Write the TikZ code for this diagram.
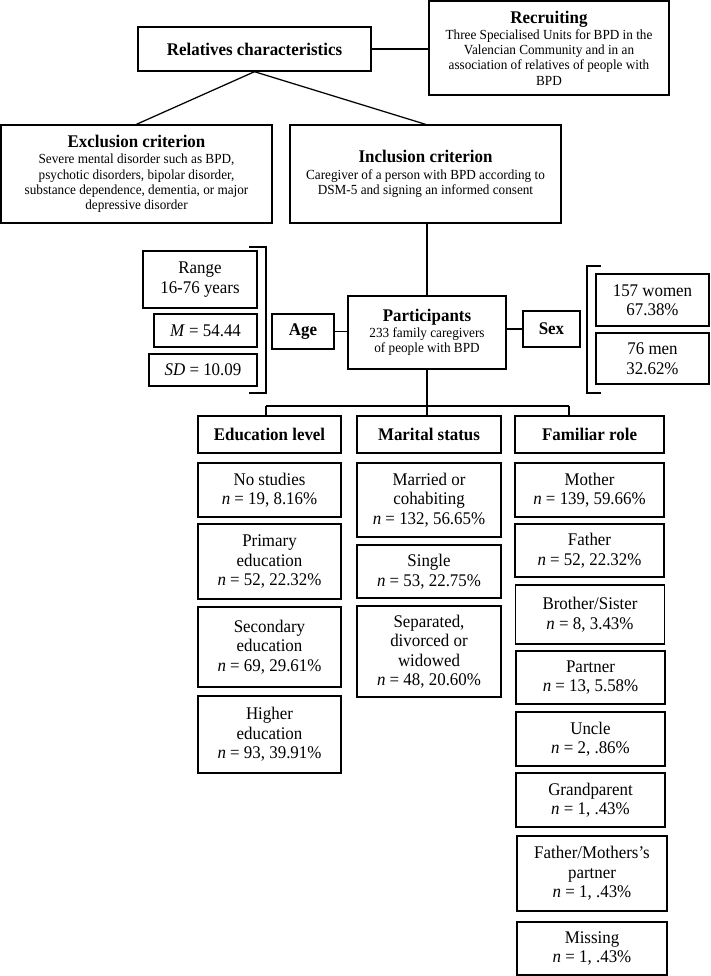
\documentclass[tikz,border=0pt]{standalone}
\usepackage{fontspec}
\setmainfont{Liberation Serif}[FakeStretch=0.95]
\newcommand\mainf{\fontsize{17.8}{19.5}\selectfont}
\newcommand\smallf{\fontsize{13.9}{15.2}\selectfont}
\begin{document}
\begin{tikzpicture}[x=1pt,y=-1pt,
  box/.style={draw=black, line width=1.4pt, align=center, inner sep=0pt, font=\mainf},
  sbox/.style={box, font=\smallf},
  conn/.style={draw=black, line width=1.25pt},
  ttl/.style={font=\mainf\bfseries}
]
\useasboundingbox (0,0) rectangle (710,976);
\fill[white] (0,0) rectangle (710,976);

% top part
\node[sbox, minimum width=240pt, minimum height=94pt] (rec) at (549,48)
  {{\mainf\bfseries Recruiting}\\[1pt]
   Three Specialised Units for BPD in the\\
   Valencian Community and in an\\
   association of relatives of people with\\
   BPD};
\node[box, minimum width=233pt, minimum height=44pt, font=\mainf\bfseries] (rel) at (254.5,49)
  {Relatives characteristics};
\node[sbox, minimum width=271pt, minimum height=98pt] (exc) at (136.5,174)
  {{\mainf\bfseries Exclusion criterion}\\[1pt]
   Severe mental disorder such as BPD,\\
   psychotic disorders, bipolar disorder,\\
   substance dependence, dementia, or major\\
   depressive disorder};
\node[sbox, minimum width=271pt, minimum height=98pt] (inc) at (425.5,174)
  {{\mainf\bfseries Inclusion criterion}\\[1pt]
   Caregiver of a person with BPD according to\\
   DSM-5 and signing an informed consent};

\draw[conn] (rel.east) -- (rel.east -| rec.west);
\draw[conn] (rel.south) -- (exc.north);
\draw[conn] (rel.south) -- (inc.north);

% participants
\node[sbox, minimum width=158pt, minimum height=73pt] (par) at (427,332.5)
  {{\mainf\bfseries Participants}\\[0pt]
   233 family caregivers\\
   of people with BPD};
\draw[conn] (par.north) -- (par.north |- inc.south);

\node[box, minimum width=62pt, minimum height=35pt, font=\mainf\bfseries] (age) at (303,331.5) {Age};
\node[box, minimum width=57pt, minimum height=36pt, font=\mainf\bfseries] (sex) at (551.5,329) {Sex};
\draw[conn] (age.east) -- (age.east -| par.west);
\draw[conn] (sex.west) -- (sex.west -| par.east);

\node[box, minimum width=114pt, minimum height=57pt] (range) at (200,279.5) {Range\\16-76 years};
\node[box, minimum width=103pt, minimum height=33pt] (mean) at (205.5,330.5) {\textit{M} = 54.44};
\node[box, minimum width=108pt, minimum height=32pt] (sd) at (203,370) {\textit{SD} = 10.09};
\draw[conn] (249,247) -- (266,247) -- (266,393) -- (249,393);

\node[box, minimum width=113pt, minimum height=52pt] (women) at (652.5,300) {157 women\\67.38\%};
\node[box, minimum width=113pt, minimum height=51pt] (men) at (652.5,358.5) {76 men\\32.62\%};
\draw[conn] (601,266) -- (587,266) -- (587,393) -- (601,393);

% categories
\node[box, minimum width=143pt, minimum height=37pt, font=\mainf\bfseries] (edu) at (269.5,434.5) {Education level};
\node[box, minimum width=144pt, minimum height=37pt, font=\mainf\bfseries] (mar) at (429,434.5) {Marital status};
\node[box, minimum width=149pt, minimum height=37pt, font=\mainf\bfseries] (fam) at (589.5,434.5) {Familiar role};

\coordinate (bl) at (266,406);
\coordinate (br) at (569,406);
\draw[conn] (par.south) -- (par.south |- mar.north);
\draw[conn] (bl) -- (br);
\draw[conn] (bl) -- (bl |- edu.north);
\draw[conn] (br) -- (br |- fam.north);

% education column
\node[box, minimum width=143pt, minimum height=54pt] (e1) at (269.5,490) {No studies\\\textit{n} = 19, 8.16\%};
\node[box, minimum width=143pt, minimum height=75pt] (e2) at (269.5,561.5) {Primary\\education\\\textit{n} = 52, 22.32\%};
\node[box, minimum width=143pt, minimum height=80pt] (e3) at (269.5,647) {Secondary\\education\\\textit{n} = 69, 29.61\%};
\node[box, minimum width=143pt, minimum height=77pt] (e4) at (269.5,734.5) {Higher\\education\\\textit{n} = 93, 39.91\%};

% marital column
\node[box, minimum width=144pt, minimum height=74pt] (m1) at (429,500) {Married or\\cohabiting\\\textit{n} = 132, 56.65\%};
\node[box, minimum width=144pt, minimum height=53pt] (m2) at (429,571.5) {Single\\\textit{n} = 53, 22.75\%};
\node[box, minimum width=144pt, minimum height=91pt] (m3) at (429,651.5) {Separated,\\divorced or\\widowed\\\textit{n} = 48, 20.60\%};

% familiar column
\node[box, minimum width=149pt, minimum height=54pt] (f1) at (589.5,490) {Mother\\\textit{n} = 139, 59.66\%};
\node[box, minimum width=149pt, minimum height=53pt] (f2) at (589.5,550.5) {Father\\\textit{n} = 52, 22.32\%};
\node[box, minimum width=149pt, minimum height=59pt] (f3) at (590,614.5) {Brother/Sister\\\textit{n} = 8, 3.43\%};
\node[box, minimum width=149pt, minimum height=53pt] (f4) at (590.5,677.5) {Partner\\\textit{n} = 13, 5.58\%};
\node[box, minimum width=149pt, minimum height=54pt] (f5) at (590.5,739) {Uncle\\\textit{n} = 2, .86\%};
\node[box, minimum width=149pt, minimum height=54pt] (f6) at (590.5,800) {Grandparent\\\textit{n} = 1, .43\%};
\node[box, minimum width=150pt, minimum height=75pt] (f7) at (592,873.5) {Father/Mothers’s\\partner\\\textit{n} = 1, .43\%};
\node[box, minimum width=150pt, minimum height=53pt] (f8) at (592,948.5) {Missing\\\textit{n} = 1, .43\%};
\end{tikzpicture}
\end{document}
